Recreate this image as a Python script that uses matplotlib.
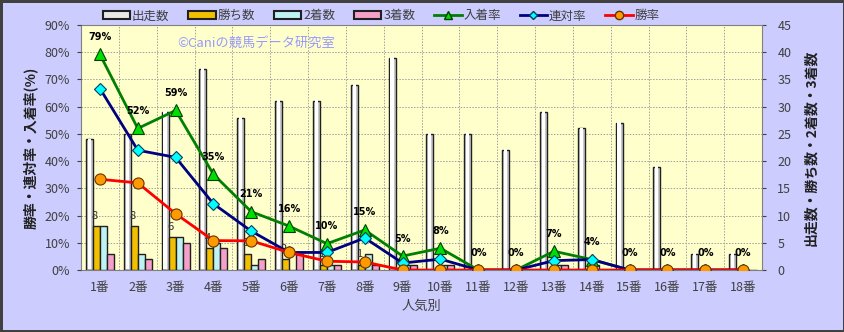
import matplotlib
matplotlib.use("Agg")
import matplotlib.pyplot as plt
import numpy as np
from matplotlib.patches import Patch
from matplotlib.lines import Line2D

plt.rcParams['font.family'] = ['Noto Sans CJK JP', 'DejaVu Sans']

categories = [f"{i}番" for i in range(1, 19)]
starts = [24, 25, 29, 37, 28, 31, 31, 34, 39, 25, 25, 22, 29, 26, 27, 19, 3, 3]
wins   = [8, 8, 6, 4, 3, 2, 1, 1, 0, 0, 0, 0, 0, 0, 0, 0, 0, 0]
second = [8, 3, 6, 5, 1, 0, 1, 3, 1, 1, 0, 0, 1, 1, 0, 0, 0, 0]
third  = [3, 2, 5, 4, 2, 3, 1, 1, 1, 1, 0, 0, 1, 0, 0, 0, 0, 0]

starts_a = np.array(starts, float)
wins_a = np.array(wins, float)
sec_a = np.array(second, float)
thi_a = np.array(third, float)
win_rate = wins_a / starts_a * 100
rentai_rate = (wins_a + sec_a) / starts_a * 100
place_rate = (wins_a + sec_a + thi_a) / starts_a * 100

fig = plt.figure(figsize=(8.45, 3.32), dpi=100)
fig.patch.set_facecolor('#CCCCFF')
fig.patch.set_edgecolor('#404040')
fig.patch.set_linewidth(2.5)

ax2 = fig.add_axes([0.0959, 0.1867, 0.9018 - 0.0959, 0.9247 - 0.1867])
ax = ax2.twinx()
ax.set_zorder(ax2.get_zorder() + 1)
ax.patch.set_visible(False)
ax2.set_facecolor('#FFFFCC')

x = np.arange(len(categories))
w = 0.185
offs = [-0.28, -0.095, 0.09, 0.275]

ax2.bar(x + offs[0], starts, w, color='#C8C8C8', edgecolor='#202020', linewidth=1.0, zorder=3)
ax2.bar(x + offs[0], starts, w * 0.45, color='#FFFFFF', edgecolor='none', linewidth=0, zorder=3.5, bottom=0.15)
ax2.bar(x + offs[1], wins, w, color='#F2C000', edgecolor='#202020', linewidth=1.0, zorder=3)
ax2.bar(x + offs[2], second, w, color='#BFF3F3', edgecolor='#202020', linewidth=1.0, zorder=3)
ax2.bar(x + offs[3], third, w, color='#F5A0C8', edgecolor='#202020', linewidth=1.0, zorder=3)

for xi, v in zip(x, wins):
    if v > 0:
        ax2.annotate(f"{v}", (xi + offs[1] - 0.05, v), xytext=(0, 4), textcoords='offset points',
                     ha='center', va='bottom', fontsize=8, color='#303030', zorder=4)

ax2.set_xlim(-0.5, len(categories) - 0.5)
ax2.set_ylim(0, 45)
ax2.set_yticks(np.arange(0, 46, 5))
ax2.set_xticks(np.arange(-0.5, len(categories), 1), minor=True)
ax2.grid(True, which='minor', axis='x', color='#A0A0A0', linestyle=(0, (1.5, 1.5)), linewidth=0.7, zorder=0)
ax2.grid(True, which='major', axis='y', color='#A0A0A0', linestyle=(0, (1.5, 1.5)), linewidth=0.7, zorder=0)
ax2.set_axisbelow(True)
ax2.yaxis.tick_right()
ax2.yaxis.set_label_position('right')
ax2.tick_params(axis='y', which='both', left=False, labelleft=False, right=True, labelright=True,
                labelsize=9, colors='#404040', length=3, pad=8)
ax2.set_xticks(x)
ax2.set_xticklabels(categories)
ax2.tick_params(axis='x', which='both', length=0, labelsize=9, colors='#404040', pad=8)
for s in ax2.spines.values():
    s.set_color('#808080')

ax.plot(x, place_rate, color='#008000', linewidth=2, marker='^', markersize=9,
        markerfacecolor='#00DD00', markeredgecolor='#004000', markeredgewidth=0.8, zorder=5)
ax.plot(x, rentai_rate, color='#000080', linewidth=2, marker='D', markersize=6,
        markerfacecolor='#00FFFF', markeredgecolor='#004060', markeredgewidth=0.8, zorder=6)
ax.plot(x, win_rate, color='#FF0000', linewidth=2, marker='o', markersize=8,
        markerfacecolor='#FF9900', markeredgecolor='#663300', markeredgewidth=0.8, zorder=7)

for xi, v in zip(x, place_rate):
    ax.annotate(f"{v:.0f}%", (xi, v), xytext=(0, 9), textcoords='offset points',
                ha='center', va='bottom', fontsize=7, fontweight='bold', color='#000000', zorder=8,
                family=['DejaVu Sans'])

ax.set_ylim(0, 90)
ax.set_yticks(np.arange(0, 91, 10))
ax.yaxis.tick_left()
ax.yaxis.set_label_position('left')
ax.set_yticklabels([f"{v}%" for v in range(0, 91, 10)])
ax.tick_params(axis='y', labelsize=9, colors='#404040', length=3, pad=5, right=False, labelright=False,
               left=True, labelleft=True)
for s in ax.spines.values():
    s.set_visible(False)

ax.set_ylabel("勝率・連対率・入着率(%)", fontsize=10, fontweight='bold', color='#202020', labelpad=5)
ax2.set_ylabel("出走数・勝ち数・2着数・3着数", fontsize=10, fontweight='bold', color='#202020',
               rotation=90, labelpad=9)
ax2.set_xlabel("人気別", fontsize=9.5, color='#404040', labelpad=4)

fig.text(0.21, 0.87, "©Caniの競馬データ研究室", fontsize=9.5, color='#9999FF', ha='left', va='center')

handles = [
    Patch(facecolor='#E8E8E8', edgecolor='#202020', linewidth=1.5),
    Patch(facecolor='#F2C000', edgecolor='#202020', linewidth=1.5),
    Patch(facecolor='#BFF3F3', edgecolor='#202020', linewidth=1.5),
    Patch(facecolor='#F5A0C8', edgecolor='#202020', linewidth=1.5),
    Line2D([], [], color='#008000', linewidth=2, marker='^', markersize=6,
           markerfacecolor='#00DD00', markeredgecolor='#004000'),
    Line2D([], [], color='#000080', linewidth=2, marker='D', markersize=4,
           markerfacecolor='#00FFFF', markeredgecolor='#004060'),
    Line2D([], [], color='#FF0000', linewidth=2, marker='o', markersize=6,
           markerfacecolor='#FF9900', markeredgecolor='#663300'),
]
labels = ["出走数", "勝ち数", "2着数", "3着数", "入着率", "連対率", "勝率"]
fig.legend(handles, labels, loc='center', bbox_to_anchor=(0.451, 0.952), ncol=7, frameon=False,
           fontsize=9, handlelength=2.2, handleheight=0.5, handletextpad=0.15, columnspacing=1.5,
           labelcolor='#404040')

fig.savefig("out.png", dpi=100, facecolor=fig.get_facecolor(), edgecolor=fig.get_edgecolor())
